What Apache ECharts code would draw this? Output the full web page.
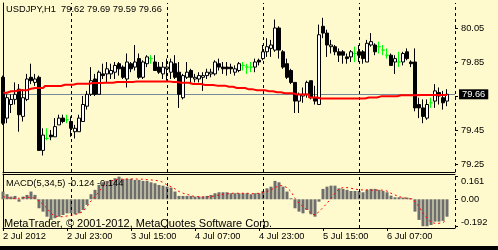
<!DOCTYPE html>
<html><head><meta charset="utf-8">
<script src="https://cdn.jsdelivr.net/npm/echarts@6/dist/echarts.min.js"></script>
<style>html,body{margin:0;padding:0;background:#FFFACD}#c{width:498px;height:250px}</style>
</head><body><div id="c"></div>
<script>
// ---------- data ----------
const symbolName = 'USDJPY,H1';
const dayHours = [['2 Jul',7,23],['3 Jul',0,23],['4 Jul',0,23],['5 Jul',0,23],['6 Jul',0,23],['7 Jul',0,0]];
const tickCats   = ['2 Jul 07:00','2 Jul 23:00','3 Jul 15:00','4 Jul 07:00','4 Jul 23:00','5 Jul 15:00','6 Jul 07:00'];
const tickLabels = ['2 Jul 2012','2 Jul 23:00','3 Jul 15:00','4 Jul 07:00','4 Jul 23:00','5 Jul 15:00','6 Jul 07:00'];
const priceTicks = [80.05, 79.85, 79.65, 79.45, 79.25];
const priceLabels = [80.05, 79.85, 79.45, 79.25];
const macdTicks = [0.161, 0, -0.192];

const openP = [79.76,79.52,79.60,79.63,79.69,79.53,79.63,79.76,79.73,79.76,79.33,79.40,79.42,79.41,79.48,79.52,79.51,79.50,79.44,79.44,
79.50,79.59,79.66,79.75,79.66,79.78,79.78,79.78,79.79,79.84,79.82,79.75,79.84,79.82,79.87,79.76,79.84,79.87,79.85,79.82,
79.78,79.81,79.79,79.84,79.79,79.64,79.76,79.80,79.75,79.75,79.76,79.77,79.78,79.78,79.84,79.82,79.82,79.82,79.79,79.80,
79.83,79.82,79.82,79.82,79.86,79.87,79.91,79.93,79.92,80.05,79.91,79.84,79.80,79.73,79.62,79.65,79.66,79.74,79.64,79.60,
80.06,80.02,79.94,79.94,79.91,79.91,79.88,79.88,79.90,79.91,79.91,79.85,79.95,79.95,79.94,79.92,79.89,79.89,79.85,79.85,
79.85,79.91,79.85,79.85,79.60,79.58,79.52,79.61,79.62,79.67,79.64,79.62];
const highP = [79.77,79.66,79.66,79.73,79.72,79.69,79.78,79.84,79.78,79.77,79.46,79.46,79.45,79.52,79.54,79.54,79.54,79.53,79.48,79.54,
79.65,79.68,79.82,79.78,79.80,79.84,79.85,79.84,79.85,79.85,79.83,79.90,79.85,79.95,79.90,79.86,79.89,79.89,79.89,79.85,
79.85,79.87,79.87,79.89,79.85,79.78,79.85,79.81,79.78,79.79,79.79,79.81,79.81,79.86,79.87,79.85,79.85,79.84,79.83,79.85,
79.85,79.84,79.85,79.87,79.87,79.95,79.99,79.98,80.10,80.06,79.92,79.87,79.81,79.73,79.67,79.70,79.74,79.74,79.71,80.07,
80.11,80.04,79.98,79.95,79.93,79.92,79.90,79.92,79.94,79.95,79.92,79.98,80.02,79.96,79.97,79.95,79.93,79.90,79.89,79.91,
79.91,79.93,79.86,79.93,79.64,79.63,79.63,79.64,79.72,79.70,79.68,79.69];
const lowP = [79.48,79.49,79.55,79.60,79.44,79.50,79.62,79.72,79.71,79.33,79.30,79.39,79.39,79.41,79.48,79.49,79.49,79.41,79.40,79.44,
79.50,79.57,79.65,79.65,79.66,79.75,79.73,79.75,79.75,79.77,79.75,79.70,79.79,79.80,79.75,79.75,79.82,79.84,79.80,79.78,
79.75,79.74,79.75,79.75,79.58,79.63,79.75,79.72,79.73,79.73,79.68,79.75,79.76,79.77,79.80,79.78,79.77,79.78,79.77,79.79,
79.80,79.78,79.79,79.79,79.83,79.86,79.88,79.88,79.91,79.87,79.81,79.75,79.72,79.55,79.55,79.61,79.64,79.63,79.60,79.60,
79.99,79.88,79.90,79.89,79.85,79.84,79.84,79.85,79.85,79.85,79.84,79.85,79.94,79.89,79.90,79.89,79.87,79.83,79.78,79.82,
79.83,79.86,79.82,79.56,79.52,79.49,79.51,79.58,79.58,79.60,79.57,79.59];
const closeP = [79.49,79.64,79.63,79.66,79.54,79.64,79.75,79.74,79.75,79.33,79.42,79.40,79.41,79.47,79.52,79.50,79.51,79.46,79.46,79.52,
79.60,79.66,79.74,79.66,79.79,79.77,79.81,79.80,79.83,79.81,79.76,79.85,79.81,79.85,79.76,79.85,79.88,79.87,79.80,79.79,
79.82,79.82,79.85,79.76,79.66,79.77,79.79,79.76,79.76,79.77,79.77,79.79,79.79,79.85,79.82,79.81,79.81,79.81,79.81,79.84,
79.83,79.82,79.82,79.85,79.85,79.91,79.94,79.95,80.05,79.92,79.82,79.76,79.73,79.62,79.66,79.66,79.73,79.64,79.62,80.01,
80.02,79.95,79.95,79.91,79.89,79.89,79.87,79.91,79.90,79.89,79.87,79.96,79.97,79.91,79.94,79.92,79.89,79.83,79.87,79.85,
79.90,79.87,79.84,79.58,79.58,79.53,79.60,79.61,79.68,79.65,79.61,79.66];
const maRed = [79.669,79.669,79.678,79.678,79.684,79.684,79.684,79.693,79.697,79.697,79.697,79.709,79.709,79.709,79.709,79.716,79.716,79.716,79.722,79.722,
79.722,79.722,79.726,79.726,79.726,79.728,79.728,79.728,79.732,79.732,79.732,79.732,79.732,79.736,79.736,79.736,79.736,79.736,79.736,79.736,
79.736,79.736,79.732,79.732,79.728,79.728,79.728,79.721,79.721,79.721,79.715,79.715,79.715,79.711,79.711,79.711,79.704,79.704,79.697,79.697,
79.697,79.689,79.689,79.684,79.684,79.684,79.678,79.678,79.672,79.672,79.666,79.666,79.666,79.659,79.659,79.659,79.659,79.641,79.641,79.635,
79.635,79.635,79.635,79.635,79.635,79.635,79.635,79.635,79.635,79.635,79.635,79.641,79.641,79.641,79.648,79.648,79.648,79.648,79.648,79.654,
79.654,79.654,79.654,79.654,79.656,79.656,79.656,79.656,79.656,79.656,79.656,79.656];
const bidPrice = 79.66;
const macdMain = [0.055,0.036,0.019,0.024,-0.017,0.019,0.031,0.055,0.031,-0.064,-0.088,-0.124,-0.147,-0.135,-0.124,-0.112,-0.100,-0.100,-0.107,-0.100,
-0.076,-0.040,0.036,0.067,0.102,0.121,0.131,0.138,0.150,0.161,0.145,0.145,0.145,0.138,0.138,0.131,0.131,0.121,0.114,0.102,
0.097,0.090,0.083,0.055,0.024,0.024,0.024,0.024,0.019,0.019,0.019,0.024,0.031,0.043,0.050,0.050,0.050,0.043,0.043,0.043,
0.043,0.043,0.036,0.043,0.043,0.059,0.078,0.090,0.131,0.121,0.090,0.055,0.007,-0.064,-0.088,-0.100,-0.076,-0.107,-0.124,-0.017,
0.074,0.090,0.097,0.097,0.078,0.074,0.067,0.059,0.059,0.059,0.050,0.067,0.074,0.074,0.067,0.059,0.050,0.026,0.014,0.014,
0.012,0.012,0.007,-0.088,-0.147,-0.192,-0.192,-0.183,-0.159,-0.159,-0.154,-0.124];
const macdSignal = [0.019,0.012,0.007,0.007,0.007,0.012,0.014,0.014,0.007,-0.012,-0.036,-0.064,-0.100,-0.119,-0.124,-0.124,-0.119,-0.114,-0.109,-0.100,
-0.088,-0.052,-0.012,0.019,0.055,0.090,0.114,0.131,0.138,0.143,0.143,0.145,0.145,0.145,0.143,0.143,0.140,0.138,0.135,0.131,
0.121,0.102,0.090,0.074,0.055,0.043,0.036,0.026,0.019,0.019,0.017,0.017,0.019,0.024,0.031,0.036,0.038,0.043,0.043,0.043,
0.043,0.043,0.040,0.040,0.043,0.048,0.055,0.067,0.083,0.097,0.097,0.083,0.055,0.007,-0.029,-0.052,-0.076,-0.100,-0.112,-0.088,
-0.059,-0.029,0.007,0.043,0.074,0.083,0.083,0.078,0.074,0.067,0.067,0.067,0.064,0.064,0.067,0.064,0.059,0.043,0.031,0.019,
0.012,0.007,0.002,-0.017,-0.052,-0.100,-0.135,-0.164,-0.171,-0.171,-0.166,-0.144];

// ---------- build ----------
const cats = [];
dayHours.forEach(([d,a,b]) => { for (let h=a; h<=b; h++) cats.push(d + ' ' + String(h).padStart(2,'0') + ':00'); });
const ohlc = openP.map((o,i) => [o, closeP[i], lowP[i], highP[i]]);
const n = openP.length;
const sepCats = cats.filter(c => c.endsWith(' 00:00'));
const FONT = 'Liberation Sans, Arial, sans-serif';
const FS = 9.3;
const sepLine = sepCats.map(c => ({xAxis: c}));
const tickFn = (idx, val) => tickCats.indexOf(val) >= 0;

const chart = echarts.init(document.getElementById('c'), null, {renderer:'canvas'});
chart.setOption({
  animation: false,
  backgroundColor: '#FFFACD',
  textStyle: {fontFamily: FONT, fontSize: FS, color: '#000'},
  title: [
    {text: symbolName + '  ' + [openP[n-1], highP[n-1], lowP[n-1], closeP[n-1]].map(v=>v.toFixed(2)).join(' '),
     left: 6, top: 5, padding: 0, textStyle: {fontFamily: FONT, fontSize: FS, fontWeight: 'normal', color: '#000'}},
    {text: 'MACD(5,34,5) ' + macdMain[n-1].toFixed(3) + ' ' + macdSignal[n-1].toFixed(3),
     left: 6, top: 179, padding: 0, textStyle: {fontFamily: FONT, fontSize: FS, fontWeight: 'normal', color: '#000'}},
    {text: 'MetaTrader, © 2001-2012, MetaQuotes Software Corp.',
     left: 4, top: 218, padding: 0, textStyle: {fontFamily: FONT, fontSize: 11, fontWeight: 'normal', color: '#000'}}
  ],
  graphic: [{type: 'rect', left: 0, top: 246, shape: {width: 498, height: 4}, style: {fill: '#000'}}],
  grid: [
    {left: 3, width: 452, top: 3, height: 169},
    {left: 3, width: 452, top: 174, height: 54}
  ],
  xAxis: [
    {gridIndex: 0, type: 'category', data: cats, boundaryGap: false,
     axisLine: {onZero: false, lineStyle: {color: '#000', width: 1}}, axisTick: {show: false}, axisLabel: {show: false}, splitLine: {show: false}},
    {gridIndex: 1, type: 'category', data: cats, boundaryGap: false,
     axisLine: {onZero: false, lineStyle: {color: '#000', width: 1}},
     axisTick: {show: true, interval: tickFn, length: 3, lineStyle: {color: '#000'}},
     axisLabel: {interval: tickFn, align: 'left', margin: 4, fontFamily: FONT, fontSize: FS, color: '#000',
       formatter: v => tickLabels[tickCats.indexOf(v)]},
     splitLine: {show: false}},
    {gridIndex: 1, type: 'category', data: cats, boundaryGap: false, position: 'top',
     axisLine: {onZero: false, lineStyle: {color: '#000', width: 1}}, axisTick: {show: false}, axisLabel: {show: false}, splitLine: {show: false}}
  ],
  yAxis: [
    {gridIndex: 0, type: 'value', position: 'right', min: 79.203, max: 80.197,
     axisLine: {show: false}, splitLine: {show: false},
     axisTick: {show: true, length: 3, customValues: priceTicks, lineStyle: {color: '#000'}},
     axisLabel: {customValues: priceLabels, margin: 6, fontFamily: FONT, fontSize: FS, color: '#000', formatter: v => v.toFixed(2)}},
    {gridIndex: 0, type: 'value', position: 'left', min: 79.203, max: 80.197,
     axisLine: {show: true, lineStyle: {color: '#000'}}, axisTick: {show: false}, axisLabel: {show: false}, splitLine: {show: false}},
    {gridIndex: 1, type: 'value', position: 'right', min: -0.2045, max: 0.180,
     axisLine: {show: false}, splitLine: {show: false},
     axisTick: {show: true, length: 3, customValues: macdTicks, lineStyle: {color: '#000'}},
     axisLabel: {customValues: macdTicks, margin: 6, fontFamily: FONT, fontSize: FS, color: '#000',
       formatter: v => Math.abs(v) < 1e-9 ? '0.00' : (v > 0 ? '{t|' + v.toFixed(3) + '}' : '{b|' + v.toFixed(3) + '}'),
       rich: {t: {padding: [9,0,0,0], fontFamily: FONT, fontSize: FS, color: '#000'},
              b: {padding: [0,0,8,0], fontFamily: FONT, fontSize: FS, color: '#000'}}}},
    {gridIndex: 1, type: 'value', position: 'left', min: -0.2045, max: 0.180,
     axisLine: {show: true, lineStyle: {color: '#000'}}, axisTick: {show: false}, axisLabel: {show: false}, splitLine: {show: false}}
  ],
  series: [
    {type: 'candlestick', xAxisIndex: 0, yAxisIndex: 0, data: ohlc, barWidth: 3, z: 2,
     itemStyle: {color: '#ffffff', color0: '#000000', borderColor: '#000000', borderColor0: '#000000', borderColorDoji: '#00ff00', borderWidth: 1},
     markLine: {silent: true, symbol: 'none', animation: false, z: 1,
       data: sepLine.map(d => Object.assign({lineStyle: {color: '#000', type: [3,3], width: 1}, label: {show: false}}, d)).concat([
         {yAxis: bidPrice, lineStyle: {color: '#778899', type: 'solid', width: 1},
          label: {show: true, position: 'end', distance: 4, formatter: bidPrice.toFixed(2), color: '#fff', backgroundColor: '#000',
                  padding: [1,3,0,3], fontFamily: FONT, fontSize: FS}}
       ])}},
    {type: 'line', xAxisIndex: 0, yAxisIndex: 0, data: maRed, step: 'middle', symbol: 'none', z: 3,
     lineStyle: {color: '#ff0000', width: 2}},
    {type: 'bar', xAxisIndex: 1, yAxisIndex: 2, data: macdMain, barWidth: 3, z: 2,
     itemStyle: {color: '#6e6e6e'},
     markLine: {silent: true, symbol: 'none', animation: false,
       data: sepLine.map(d => Object.assign({lineStyle: {color: '#000', type: [3,3], width: 1}, label: {show: false}}, d))}},
    {type: 'line', xAxisIndex: 1, yAxisIndex: 2, data: macdSignal, symbol: 'none', z: 3,
     lineStyle: {color: '#ff0000', width: 1, type: [2,3]}}
  ]
});
</script></body></html>
